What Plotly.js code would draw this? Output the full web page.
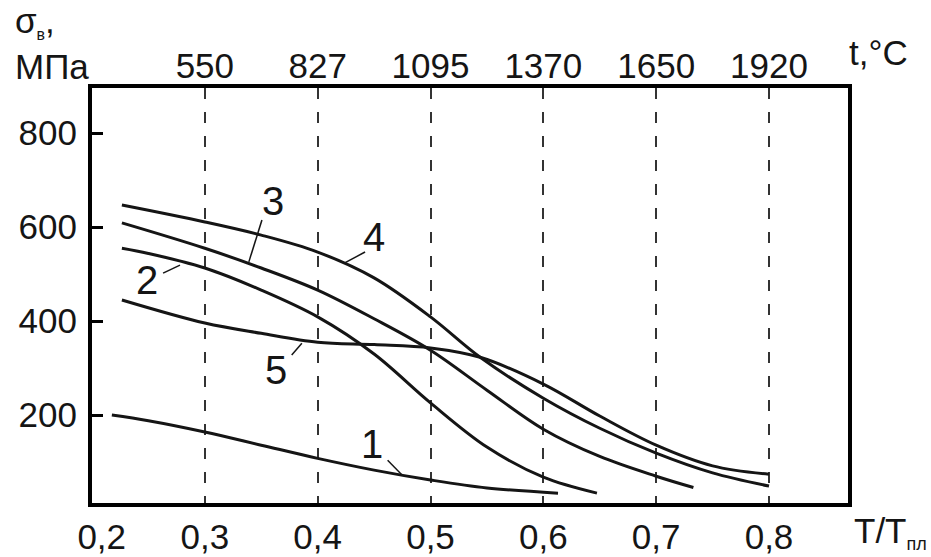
<!DOCTYPE html>
<html>
<head>
<meta charset="utf-8">
<script src="https://cdn.plot.ly/plotly-3.0.1.min.js"></script>
<style>
html,body{margin:0;padding:0;background:#fff;}
#chart{width:931px;height:557px;}
</style>
</head>
<body>
<div id="chart"></div>
<script>
// Data (x = T/Tпл, y = σв, МПа)
const curve1X = [0.2176, 0.25, 0.3, 0.35, 0.4, 0.45, 0.5, 0.55, 0.613];
const curve1Y = [200, 188, 164, 136, 108, 83, 62, 45, 34];

const curve2X = [0.2265, 0.25, 0.3, 0.35, 0.4, 0.45, 0.5, 0.55, 0.6, 0.6475];
const curve2Y = [555, 544, 513, 466, 409, 330, 226, 132, 68, 34];

const curve3X = [0.2265, 0.3, 0.35, 0.4, 0.45, 0.5, 0.55, 0.6, 0.65, 0.7, 0.733];
const curve3Y = [609, 555, 513, 466, 405, 338, 253, 170, 112, 70, 46];

const curve4X = [0.2265, 0.3, 0.35, 0.4, 0.45, 0.5, 0.544, 0.6, 0.65, 0.7, 0.75, 0.8];
const curve4Y = [647, 611, 583, 547, 492, 409, 323, 236, 172, 119, 77, 49];

const curve5X = [0.2265, 0.3, 0.35, 0.4, 0.45, 0.5, 0.544, 0.6, 0.65, 0.7, 0.75, 0.8];
const curve5Y = [445, 396, 374, 355, 350, 343, 323, 266, 198, 136, 92, 74];

const ratioTicks = [0.2, 0.3, 0.4, 0.5, 0.6, 0.7, 0.8];
const ratioLabels = ["\u00a0\u00a00,2", "0,3", "0,4", "0,5", "0,6", "0,7", "0,8"];
const tempTicks = [0.3, 0.4, 0.5, 0.6, 0.7, 0.8];
const tempLabels = ["550", "827", "1095", "1370", "1650", "1920"];
const stressTicks = [200, 400, 600, 800];
const stressLabels = ["200", "400", "600", "800"];

const curveNames = ["1", "2", "3", "4", "5"];
// label text positions and leader lines (data coords)
const labelPos = [[0.448, 138], [0.249, 487], [0.360, 655], [0.450, 579], [0.363, 296]];
const leaders = [
  [[0.462, 104], [0.475, 72]],
  [[0.263, 502], [0.278, 519]],
  [[0.3506, 615], [0.339, 526]],
  [[0.442, 547], [0.424, 524]],
  [[0.377, 328], [0.386, 353]]
];

const FONT = "Liberation Sans, Arial, Helvetica, sans-serif";
const INK = "#151515";

const series = [[curve1X, curve1Y], [curve2X, curve2Y], [curve3X, curve3Y], [curve4X, curve4Y], [curve5X, curve5Y]];
const traces = series.map((s, i) => ({
  x: s[0], y: s[1], type: "scatter", mode: "lines", name: curveNames[i],
  line: {color: INK, width: 3, shape: "spline", smoothing: 1},
  hoverinfo: "skip", showlegend: false, xaxis: "x", yaxis: "y"
}));
// invisible trace to activate top axis
traces.push({x: [0.3], y: [null], xaxis: "x2", yaxis: "y", mode: "lines", showlegend: false, hoverinfo: "skip"});

const annotations = curveNames.map((n, i) => ({
  x: labelPos[i][0], y: labelPos[i][1], xref: "x", yref: "y", text: n, showarrow: false,
  font: {family: FONT, size: 40, color: INK}, xanchor: "center", yanchor: "middle"
}));
annotations.push({
  xref: "paper", yref: "paper", x: -0.1045, y: 1, xanchor: "left", yanchor: "bottom", yshift: 0,
  align: "left", showarrow: false,
  text: "σ<sub><span style='font-size:16px'>в</span></sub>,<br>МПа",
  font: {family: FONT, size: 35, color: INK}
});
annotations.push({
  xref: "paper", yref: "paper", x: 0.9987, y: 1, xanchor: "left", yanchor: "bottom", yshift: 14,
  showarrow: false, text: "t,°C", font: {family: FONT, size: 35, color: INK}
});
annotations.push({
  xref: "paper", yref: "paper", x: 1.005, y: 0, xanchor: "left", yanchor: "top", yshift: -6,
  showarrow: false, text: "T/T<sub><span style='font-size:18px'>пл</span></sub>",
  font: {family: FONT, size: 35, color: INK}
});

const shapes = leaders.map(l => ({
  type: "line", xref: "x", yref: "y", x0: l[0][0], y0: l[0][1], x1: l[1][0], y1: l[1][1],
  line: {color: INK, width: 1.5}
}));

const layout = {
  width: 931, height: 557,
  margin: {l: 92, r: 83, t: 88, b: 54, pad: 0},
  paper_bgcolor: "#fff", plot_bgcolor: "#fff",
  font: {family: FONT, size: 35, color: INK},
  showlegend: false,
  xaxis: {
    range: [0.2, 0.87], tickvals: ratioTicks, ticktext: ratioLabels,
    showline: true, mirror: true, linewidth: 4, linecolor: "#000",
    ticks: "", showgrid: true, gridcolor: "#333", gridwidth: 2, griddash: "11px,13px",
    zeroline: false, tickfont: {family: FONT, size: 35, color: INK}, ticklabelstandoff: 0
  },
  xaxis2: {
    overlaying: "x", side: "top", matches: "x", range: [0.2, 0.87],
    tickvals: tempTicks, ticktext: tempLabels, ticks: "", showgrid: false,
    showline: false, zeroline: false, tickfont: {family: FONT, size: 35, color: INK}, ticklabelstandoff: 2
  },
  yaxis: {
    range: [13, 896], tickvals: stressTicks, ticktext: stressLabels,
    showline: true, mirror: true, linewidth: 4, linecolor: "#000",
    ticks: "inside", ticklen: 11, tickwidth: 3, tickcolor: "#000",
    showgrid: false, zeroline: false, tickfont: {family: FONT, size: 35, color: INK}, ticklabelstandoff: 4
  },
  annotations: annotations,
  shapes: shapes
};

Plotly.newPlot("chart", traces, layout, {displayModeBar: false, staticPlot: true});
</script>
</body>
</html>
